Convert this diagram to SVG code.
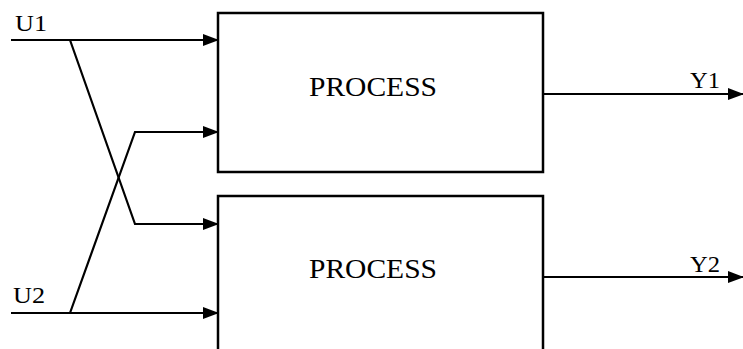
<svg xmlns="http://www.w3.org/2000/svg" width="743" height="349" viewBox="0 0 743 349">
  <style>
    .box { fill: #fff; stroke: #000; stroke-width: 2.5; }
    .wire { fill: none; stroke: #000; stroke-width: 2.2; }
    .label { font-family: "Liberation Serif", "Times New Roman", serif; fill: #000; }
    .title { font-size: 27px; }
    .io { font-size: 23px; }
  </style>
  <defs>
    <marker id="arrow" markerWidth="16" markerHeight="12" refX="15" refY="6" orient="auto" markerUnits="userSpaceOnUse">
      <path d="M0,0 L16,6 L0,12 Z" fill="#000"/>
    </marker>
  </defs>

  <!-- Process blocks -->
  <g id="process1">
    <rect class="box" x="218" y="13" width="325" height="159"/>
    <text class="label title" x="309" y="96" textLength="128" lengthAdjust="spacingAndGlyphs">PROCESS</text>
  </g>
  <g id="process2">
    <rect class="box" x="218" y="196" width="325" height="170"/>
    <text class="label title" x="309" y="278" textLength="128" lengthAdjust="spacingAndGlyphs">PROCESS</text>
  </g>

  <!-- Signal labels -->
  <g id="u1"><text class="label io" x="15" y="31" textLength="32" lengthAdjust="spacingAndGlyphs">U1</text></g>
  <g id="u2"><text class="label io" x="13" y="303" textLength="32" lengthAdjust="spacingAndGlyphs">U2</text></g>
  <g id="y1"><text class="label io" x="690" y="88" textLength="30" lengthAdjust="spacingAndGlyphs">Y1</text></g>
  <g id="y2"><text class="label io" x="690" y="272" textLength="30" lengthAdjust="spacingAndGlyphs">Y2</text></g>

  <!-- Connectors -->
  <g id="connectors">
    <path class="wire" d="M11,40 H218" marker-end="url(#arrow)"/>
    <path class="wire" d="M70,40 L135,224 H218" marker-end="url(#arrow)"/>
    <path class="wire" d="M11,313 H218" marker-end="url(#arrow)"/>
    <path class="wire" d="M70,313 L135,132 H218" marker-end="url(#arrow)"/>
    <path class="wire" d="M543,94 H743" marker-end="url(#arrow)"/>
    <path class="wire" d="M543,277 H743" marker-end="url(#arrow)"/>
  </g>
</svg>
